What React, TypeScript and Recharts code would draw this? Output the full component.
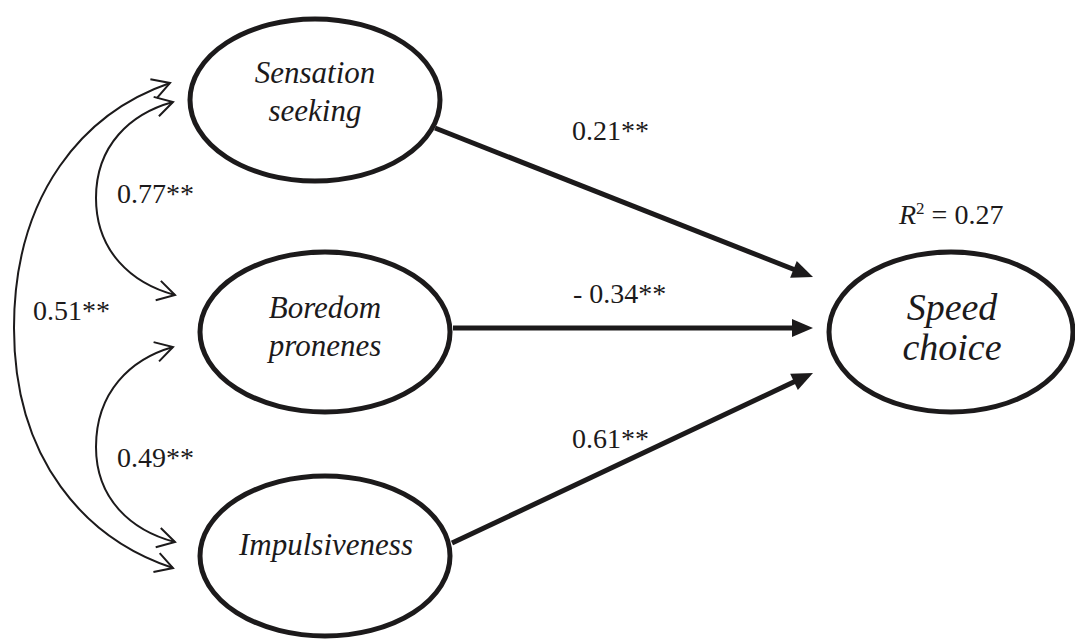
import React from 'react';
import { ScatterChart, Scatter, XAxis, YAxis } from 'recharts';

const W = 1075;
const H = 639;

// ---- latent variables (ellipse centres in diagram units) ----
const nodeNames = ['Sensation seeking', 'Boredom pronenes', 'Impulsiveness', 'Speed choice'];
const nodeX = [315, 325, 325, 951];
const nodeY = [100, 332, 556, 332];
const nodeIsOutcome = [false, false, false, true];

// ---- node label lines (first baseline) ----
const nodeLabelLines = [['Sensation', 'seeking'], ['Boredom', 'pronenes'], ['Impulsiveness'], ['Speed', 'choice']];
const nodeLabelX = [315, 325, 326, 952];
const nodeLabelY = [83, 318, 555, 320];

// ---- regression paths (start on predictor, tip at outcome) ----
const pathCoefs = ['0.21**', '- 0.34**', '0.61**'];
const pathStart = [[435, 128], [453, 328], [452, 543]];
const pathEnd = [[813, 277], [813, 328], [813, 373]];
const pathLabelPos = [[572, 140], [573, 303], [572, 448]];

// ---- correlations (two-headed curved arrows) ----
const corrCoefs = ['0.77**', '0.49**', '0.51**'];
const corrTopTip = [[173, 102], [173, 347], [170, 83]];
const corrApex = [[96, 198], [96, 447], [14, 328]];
const corrBottomTip = [[175, 295], [175, 542], [173, 568]];
const corrLabelPos = [[117, 203], [117, 467], [33, 320]];

// ---- explained variance ----
const r2Value = '0.27';
const r2Pos = [899, 224];

const INK = '#1c1a1b';
const FONT = 'Liberation Serif, serif';

const pt = (p: number[]) => ({ x: p[0], y: p[1] });

const arrowData = pathStart.map((s, i) => [pt(s), pt(pathEnd[i])]);
const curveData = corrTopTip.map((t, i) => [pt(t), pt(corrApex[i]), pt(corrBottomTip[i])]);
const nodeData = nodeNames.map((n, i) => ({ x: nodeX[i], y: nodeY[i], name: n, outcome: nodeIsOutcome[i] }));
const nodeTextData = nodeLabelLines.map((lines, i) => ({ x: nodeLabelX[i], y: nodeLabelY[i], lines, big: nodeIsOutcome[i] }));
const coefTextData = [
  ...pathCoefs.map((c, i) => ({ x: pathLabelPos[i][0], y: pathLabelPos[i][1], text: c })),
  ...corrCoefs.map((c, i) => ({ x: corrLabelPos[i][0], y: corrLabelPos[i][1], text: c })),
];
const r2Data = [{ x: r2Pos[0], y: r2Pos[1], text: r2Value }];

const Empty = () => <g />;

const StraightArrow = (props: any) => {
  const pts = props.points;
  if (!pts || pts.length < 2) return <g />;
  const a = pts[0];
  const b = pts[1];
  const dx = b.x - a.x;
  const dy = b.y - a.y;
  const len = Math.sqrt(dx * dx + dy * dy);
  const ux = dx / len;
  const uy = dy / len;
  const headL = 21;
  const headW = 9;
  const bx = b.x - ux * headL;
  const by = b.y - uy * headL;
  const px = -uy;
  const py = ux;
  return (
    <g>
      <line x1={a.x} y1={a.y} x2={bx + ux * 2} y2={by + uy * 2} stroke={INK} strokeWidth={5} />
      <polygon
        points={`${b.x},${b.y} ${bx + px * headW},${by + py * headW} ${bx - px * headW},${by - py * headW}`}
        fill={INK}
      />
    </g>
  );
};

const chevron = (tip: { x: number; y: number }, from: { x: number; y: number }) => {
  const dx = tip.x - from.x;
  const dy = tip.y - from.y;
  const len = Math.sqrt(dx * dx + dy * dy);
  const ux = dx / len;
  const uy = dy / len;
  const L = 20;
  const ang = (30 * Math.PI) / 180;
  const c = Math.cos(ang);
  const s = Math.sin(ang);
  const rx = -ux;
  const ry = -uy;
  const a1x = tip.x + L * (rx * c - ry * s);
  const a1y = tip.y + L * (rx * s + ry * c);
  const a2x = tip.x + L * (rx * c + ry * s);
  const a2y = tip.y + L * (-rx * s + ry * c);
  return `M${a1x},${a1y} L${tip.x},${tip.y} L${a2x},${a2y}`;
};

const CurveArrow = (props: any) => {
  const pts = props.points;
  if (!pts || pts.length < 3) return <g />;
  const [t, a, b] = pts;
  const k = 0.55;
  const tilt = 0.12;
  const dxA = t.x - a.x;
  const dyA = a.y - t.y;
  const dxB = b.x - a.x;
  const dyB = b.y - a.y;
  const c1 = { x: t.x - k * dxA, y: t.y + tilt * dyA };
  const c2 = { x: a.x, y: a.y - k * dyA };
  const c3 = { x: a.x, y: a.y + k * dyB };
  const c4 = { x: b.x - k * dxB, y: b.y - tilt * dyB };
  const d = `M${t.x},${t.y} C${c1.x},${c1.y} ${c2.x},${c2.y} ${a.x},${a.y} C${c3.x},${c3.y} ${c4.x},${c4.y} ${b.x},${b.y}`;
  return (
    <g fill="none" stroke={INK} strokeWidth={2}>
      <path d={d} />
      <path d={chevron(t, c1)} />
      <path d={chevron(b, c4)} />
    </g>
  );
};

const NodeShape = (props: any) => {
  const { cx, cy, payload } = props;
  const rx = payload.outcome ? 122 : 125;
  const ry = payload.name === 'Sensation seeking' ? 81 : 80;
  return <ellipse cx={cx} cy={cy} rx={rx} ry={ry} fill="#fff" stroke={INK} strokeWidth={5} />;
};

const NodeText = (props: any) => {
  const { cx, cy, payload } = props;
  const fs = payload.big ? 38 : 31;
  const gap = payload.big ? 40 : 38;
  return (
    <g>
      {payload.lines.map((l: string, i: number) => (
        <text
          key={i}
          x={cx}
          y={cy + i * gap}
          textAnchor="middle"
          style={{ fontFamily: FONT, fontStyle: 'italic', fontSize: fs }}
          fill={INK}
        >
          {l}
        </text>
      ))}
    </g>
  );
};

const CoefText = (props: any) => {
  const { cx, cy, payload } = props;
  return (
    <text x={cx} y={cy} textAnchor="start" style={{ fontFamily: FONT, fontSize: 28 }} fill={INK}>
      {payload.text}
    </text>
  );
};

const R2Text = (props: any) => {
  const { cx, cy, payload } = props;
  return (
    <text x={cx} y={cy} textAnchor="start" style={{ fontFamily: FONT, fontSize: 28 }} fill={INK}>
      <tspan style={{ fontStyle: 'italic' }}>R</tspan>
      <tspan dy={-10} style={{ fontSize: 17 }}>2</tspan>
      <tspan dy={10}>{` = ${payload.text}`}</tspan>
    </text>
  );
};

export default function App() {
  return (
    <div style={{ position: 'absolute', left: 0, top: 0, width: W, height: H, background: '#fff' }}>
      <ScatterChart width={W} height={H} margin={{ top: 0, right: 0, bottom: 0, left: 0 }}>
        <XAxis type="number" dataKey="x" domain={[0, W]} hide allowDataOverflow />
        <YAxis type="number" dataKey="y" domain={[0, H]} reversed hide allowDataOverflow />
        {curveData.map((d, i) => (
          <Scatter key={'c' + i} data={d} shape={Empty} line={CurveArrow} isAnimationActive={false} />
        ))}
        {arrowData.map((d, i) => (
          <Scatter key={'a' + i} data={d} shape={Empty} line={StraightArrow} isAnimationActive={false} />
        ))}
        <Scatter data={nodeData} shape={NodeShape} isAnimationActive={false} />
        <Scatter data={nodeTextData} shape={NodeText} isAnimationActive={false} />
        <Scatter data={coefTextData} shape={CoefText} isAnimationActive={false} />
        <Scatter data={r2Data} shape={R2Text} isAnimationActive={false} />
      </ScatterChart>
    </div>
  );
}
